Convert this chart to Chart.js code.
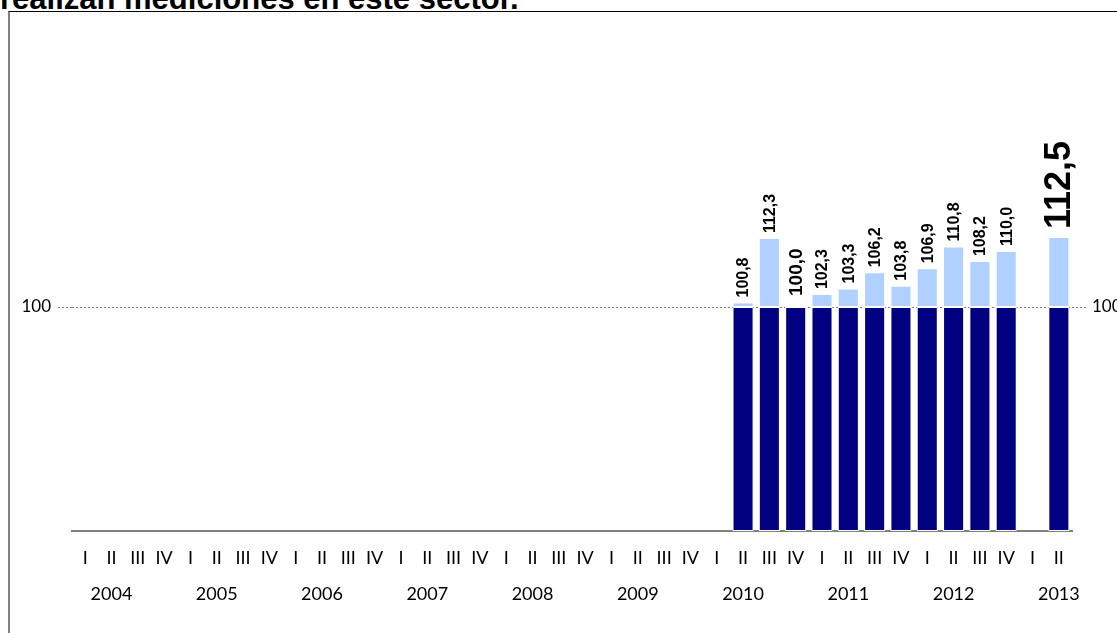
<!DOCTYPE html>
<html>
<head>
<meta charset="utf-8">
<script src="https://cdn.jsdelivr.net/npm/chart.js@4/dist/chart.umd.min.js"></script>
<style>
  html, body { margin: 0; padding: 0; background: #fff; overflow: hidden; }
  #wrap { position: relative; width: 1117px; height: 633px; }
  #title { position: absolute; left: 0; top: -17px; font: bold 31px/1 "Liberation Sans", Arial, sans-serif; color: #000; white-space: nowrap; }
  #frame { position: absolute; left: 8px; top: 11px; width: 1200px; height: 700px; border-top: 1px solid #000; border-left: 2px solid #808080; pointer-events: none; }
  canvas { position: absolute; left: 0; top: 0; }
</style>
</head>
<body>
<div id="wrap">
  <div id="title">realizan mediciones en este sector.</div>
  <canvas id="myChart" width="1117" height="633"></canvas>
  <div id="frame"></div>
</div>
<script>
// quarters 2004-I .. 2013-II
var years = ['2004', '2005', '2006', '2007', '2008', '2009', '2010', '2011', '2012', '2013'];
var quarterNames = ['I', 'II', 'III', 'IV'];
var lastQuarterCount = 2; // 2013 only has I and II

// index values (base 2010-IV = 100), null where there is no data
var values = [
  null, null, null, null,   // 2004
  null, null, null, null,   // 2005
  null, null, null, null,   // 2006
  null, null, null, null,   // 2007
  null, null, null, null,   // 2008
  null, null, null, null,   // 2009
  null, 100.8, 112.3, 100.0, // 2010
  102.3, 103.3, 106.2, 103.8, // 2011
  106.9, 110.8, 108.2, 110.0, // 2012
  null, 112.5                 // 2013
];
var baseValue = 100;
var yMin = 60;
var yMax = 150;

var labels = [];
years.forEach(function(y, yi) {
    var n = yi === years.length - 1 ? lastQuarterCount : 4;
    for (var q = 0; q < n; q++) {
        labels.push(q === 1 ? [quarterNames[q], y] : [quarterNames[q], '']);
    }
});

var darkData = values.map(function(v) { return v === null ? null : [yMin, baseValue]; });
var lightData = values.map(function(v) { return (v === null || v <= baseValue) ? null : [baseValue, v]; });

var lastIdx = values.length - 1;

var valueLabels = {
    id: 'valueLabels',
    afterDatasetsDraw: function(chart) {
        var ctx = chart.ctx;
        var meta = chart.getDatasetMeta(0);
        var yScale = chart.scales.y;
        ctx.save();
        values.forEach(function(v, i) {
            if (v === null) return;
            var x = meta.data[i].x;
            var size = i === lastIdx ? 36 : (v === baseValue ? 19 : 16);
            var gap = i === lastIdx ? 8 : (v === baseValue ? 11 : 5);
            var y = yScale.getPixelForValue(v) - gap;
            ctx.font = 'bold ' + size + 'px "Liberation Sans", Arial, sans-serif';
            ctx.fillStyle = '#000';
            ctx.textAlign = 'left';
            ctx.textBaseline = 'middle';
            ctx.translate(x + 1, y);
            ctx.rotate(-Math.PI / 2);
            ctx.fillText(v.toFixed(1).replace('.', ','), 0, 0);
            ctx.setTransform(1, 0, 0, 1, 0, 0);
        });
        ctx.restore();
    }
};

var tickFont = { family: 'Lato, "DejaVu Sans", sans-serif', size: 18, lineHeight: 2.0 };
var gridBlue = '#7070e0';

var ctx = document.getElementById('myChart').getContext('2d');
var chart = new Chart(ctx, {
    type: 'bar',
    data: {
        labels: labels,
        datasets: [{
            data: darkData,
            backgroundColor: '#000080',
            borderColor: '#ffffff',
            borderWidth: 1,
            borderSkipped: false,
            grouped: false,
            barPercentage: 0.8,
            categoryPercentage: 1
        }, {
            data: lightData,
            backgroundColor: '#b0d0ff',
            borderColor: '#ffffff',
            borderWidth: 1,
            borderSkipped: false,
            grouped: false,
            barPercentage: 0.8,
            categoryPercentage: 1
        }]
    },
    options: {
        responsive: false,
        animation: false,
        layout: { padding: { top: 27, left: 0, right: 0, bottom: 0 } },
        plugins: { legend: { display: false }, tooltip: { enabled: false } },
        scales: {
            x: {
                grid: { display: false },
                border: { display: true, color: '#808080', width: 2 },
                ticks: {
                    color: '#000',
                    font: tickFont,
                    autoSkip: false,
                    maxRotation: 0,
                    padding: 1
                },
                afterFit: function(s) { s.height = 102; }
            },
            y: {
                position: 'left',
                min: yMin,
                max: yMax,
                afterBuildTicks: function(s) { s.ticks = [{ value: baseValue }]; },
                grid: { color: gridBlue, tickColor: gridBlue, tickLength: 14, tickBorderDash: [2, 2] },
                border: { display: false, dash: [2, 2] },
                ticks: { color: '#000', font: { family: tickFont.family, size: 17 }, padding: 7 },
                afterFit: function(s) { s.width = 72; }
            },
            y2: {
                position: 'right',
                min: yMin,
                max: yMax,
                afterBuildTicks: function(s) { s.ticks = [{ value: baseValue }]; },
                grid: { drawOnChartArea: false, color: gridBlue, tickColor: gridBlue, tickLength: 16, tickBorderDash: [2, 2] },
                border: { display: false, dash: [2, 2] },
                ticks: { color: '#000', font: { family: tickFont.family, size: 17 }, padding: 4 },
                afterFit: function(s) { s.width = 45; }
            }
        }
    },
    plugins: [valueLabels]
});
</script>
</body>
</html>
